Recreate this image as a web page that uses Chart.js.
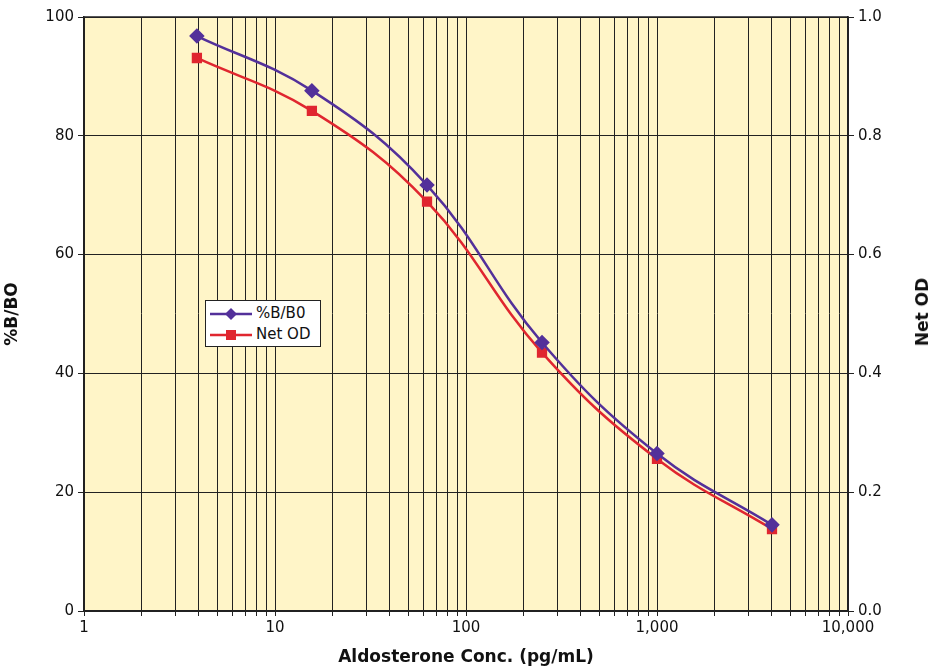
<!DOCTYPE html>
<html>
<head>
<meta charset="utf-8">
<script src="https://cdn.jsdelivr.net/npm/chart.js@4/dist/chart.umd.min.js"></script>
<style>
  html, body { margin: 0; padding: 0; background: #fff; }
  #wrap { position: relative; width: 934px; height: 672px; }
  #legend {
    position: absolute; left: 205px; top: 300px; width: 116px; height: 47px;
    background: #fff; border: 1px solid #222; box-sizing: border-box;
    font: 15px "DejaVu Sans", sans-serif; color: #111; padding: 2px 0 0 4px;
  }
  #legend div { height: 21px; line-height: 21px; white-space: nowrap; }
  #legend svg { vertical-align: middle; margin-right: 4px; }
  #rtitle {
    position: absolute; left: 922px; top: 312px; width: 0; height: 0;
  }
  #rtitle span {
    position: absolute; transform: translate(-50%, -50%) rotate(-90deg);
    font: bold 17px "DejaVu Sans", sans-serif; color: #111; white-space: nowrap;
  }
</style>
</head>
<body>
<div id="wrap">
  <canvas id="ec" width="934" height="672"></canvas>
  <div id="legend">
    <div><svg width="42" height="14"><line x1="0" y1="7" x2="42" y2="7" stroke="#53309a" stroke-width="2.5"/><polygon points="21,1 27,7 21,13 15,7" fill="#53309a"/></svg>%B/B0</div>
    <div><svg width="42" height="14"><line x1="0" y1="7" x2="42" y2="7" stroke="#e0262f" stroke-width="2.5"/><rect x="16" y="2" width="10" height="10" fill="#e0262f"/></svg>Net OD</div>
  </div>
  <div id="rtitle"><span>Net OD</span></div>
</div>
<script>
// standards, pg/mL
let conc = [3.9, 15.6, 62.5, 250, 1000, 4000]
let pctB = [96.8, 87.6, 71.7, 45.2, 26.5, 14.5]
let netOD = [0.931, 0.842, 0.689, 0.435, 0.256, 0.138]

let xTicks = []
for (let d = 1; d < 10000; d *= 10) {
  for (let m = 1; m < 10; m++) xTicks.push(m * d)
}
xTicks.push(10000)

let bg = {
  id: "bg",
  beforeDraw(chart) {
    let a = chart.chartArea, c = chart.ctx
    c.save()
    c.fillStyle = "#fff5c8"
    c.fillRect(a.left, a.top, a.right - a.left, a.bottom - a.top)
    c.restore()
  },
  afterDatasetsDraw(chart) {
    let a = chart.chartArea, c = chart.ctx
    c.save()
    c.strokeStyle = "#222"
    c.lineWidth = 1.5
    c.strokeRect(a.left, a.top, a.right - a.left, a.bottom - a.top)
    c.restore()
  }
}

let tickFont = { family: "DejaVu Sans", size: 15 }
let titleFont = { family: "DejaVu Sans", size: 17, weight: "bold" }

let ctx = document.querySelector("#ec").getContext("2d")
let chart = new Chart(ctx, {
  type: "line",
  data: {
    datasets: [{
      label: "%B/B0",
      data: conc.map((x, i) => ({ x: x, y: pctB[i] })),
      yAxisID: "y",
      borderColor: "#53309a",
      backgroundColor: "#53309a",
      borderWidth: 2.5,
      pointStyle: "rectRot",
      pointRadius: 6,
      pointHoverRadius: 6,
      tension: 0.4
    }, {
      label: "Net OD",
      data: conc.map((x, i) => ({ x: x, y: netOD[i] })),
      yAxisID: "y2",
      borderColor: "#e0262f",
      backgroundColor: "#e0262f",
      borderWidth: 2.5,
      pointStyle: "rect",
      pointRadius: 5.5,
      pointHoverRadius: 5.5,
      tension: 0.4
    }]
  },
  options: {
    responsive: false,
    animation: false,
    layout: { padding: { top: 17, left: 0, right: 0, bottom: 0 } },
    plugins: { legend: { display: false }, tooltip: { enabled: false } },
    scales: {
      x: {
        type: "logarithmic",
        min: 1, max: 10000,
        afterBuildTicks: s => { s.ticks = xTicks.map(v => ({ value: v })) },
        afterFit: s => { s.height = 61 },
        grid: { color: "#222", lineWidth: 1, tickLength: 5 },
        border: { color: "#222", width: 1.5 },
        ticks: {
          autoSkip: false, maxRotation: 0, color: "#111", font: tickFont, padding: 3,
          callback: v => Number.isInteger(Math.log10(v)) ? v.toLocaleString("en-US") : ""
        },
        title: { display: true, text: "Aldosterone Conc. (pg/mL)", color: "#111", font: titleFont, padding: { top: 2 } }
      },
      y: {
        position: "left",
        min: 0, max: 100,
        afterFit: s => { s.width = 84 },
        grid: { color: "#222", lineWidth: 1, tickLength: 6 },
        border: { color: "#222", width: 1.5 },
        ticks: { stepSize: 20, color: "#111", font: tickFont, padding: 4 },
        title: { display: true, text: "%B/BO", color: "#111", font: titleFont, padding: { top: 2, bottom: 0 } }
      },
      y2: {
        position: "right",
        min: 0, max: 1,
        afterFit: s => { s.width = 86 },
        grid: { drawOnChartArea: false, color: "#222", tickLength: 6 },
        border: { color: "#222", width: 1.5 },
        ticks: { stepSize: 0.2, color: "#111", font: tickFont, padding: 4, callback: v => v.toFixed(1) }
      }
    }
  },
  plugins: [bg]
})
</script>
</body>
</html>
